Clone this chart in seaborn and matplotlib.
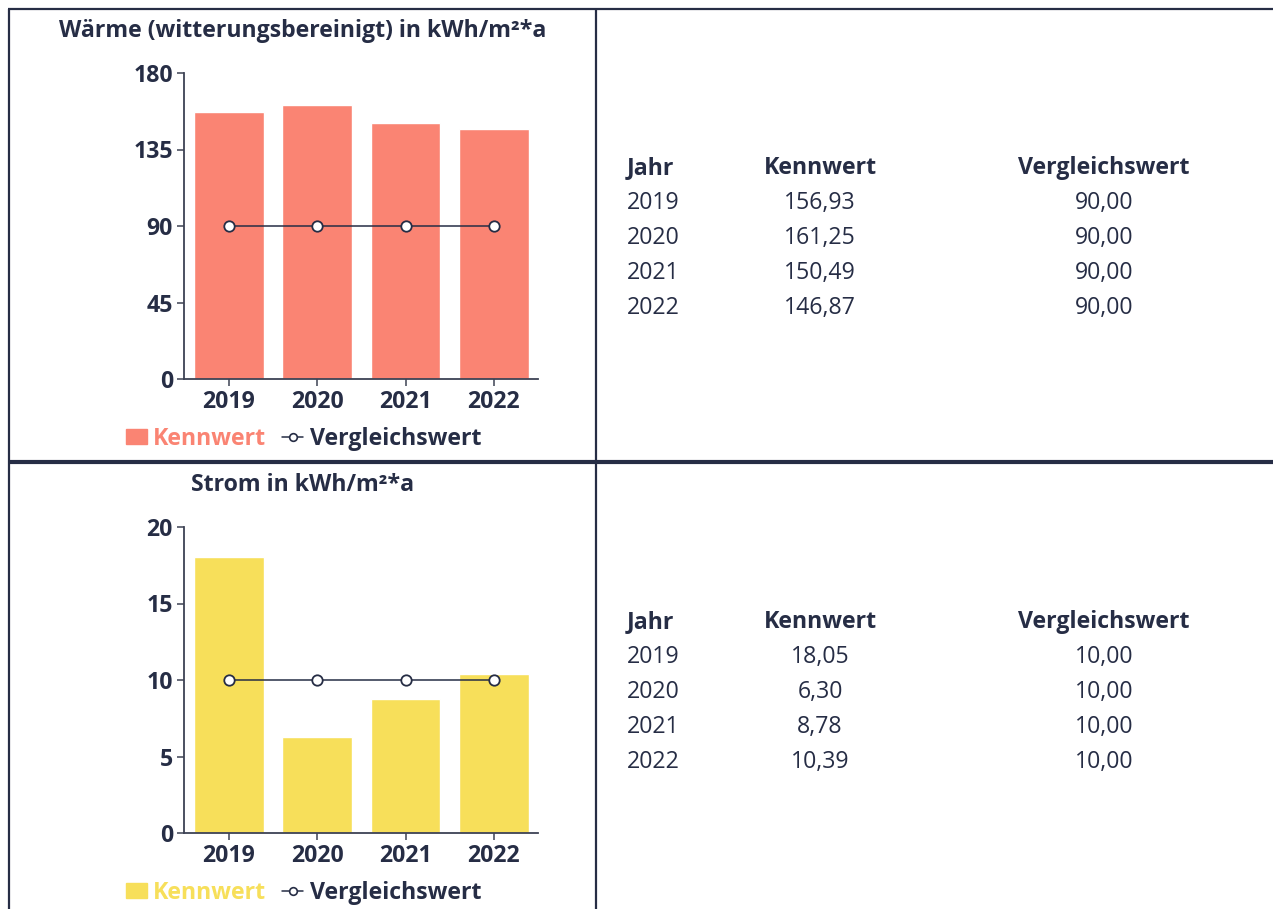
import numpy as np
import pandas as pd
import seaborn as sns
import matplotlib.pyplot as plt
from matplotlib.lines import Line2D

years = ["2019", "2020", "2021", "2022"]
waerme = [156.93, 161.25, 150.49, 146.87]
waerme_ref = [90.00, 90.00, 90.00, 90.00]
strom = [18.05, 6.30, 8.78, 10.39]
strom_ref = [10.00, 10.00, 10.00, 10.00]

waerme_ticks = [0, 45, 90, 135, 180]
strom_ticks = [0, 5, 10, 15, 20]

DARK = "#262d45"
SALMON = "#fa8473"
YELLOW = "#f7df5a"
FS = 16.7

sns.set_theme(style="white")
plt.rcParams["font.family"] = ["Open Sans", "DejaVu Sans"]
plt.rcParams["text.color"] = DARK

W, H = 1273, 909
fig = plt.figure(figsize=(W / 100, H / 100), dpi=100)


def fx(px):
    return px / W


def fy(py):
    return 1 - py / H


def fline(x0, y0, x1, y1, lw):
    fig.add_artist(Line2D([fx(x0), fx(x1)], [fy(y0), fy(y1)], color=DARK,
                          lw=lw, transform=fig.transFigure, solid_capstyle="butt"))


# frame of the report table
fline(8, 9, W, 9, 1.6)
fline(9, 9, 9, H, 1.6)
fline(596, 9, 596, H, 1.6)
fline(8, 462, W, 462, 3.0)


def panel(off, title, values, ref, ticks, color):
    ax = fig.add_axes([fx(184), fy(379 + off), fx(538 - 184), (306) / H])
    df = pd.DataFrame({"Jahr": years, "Kennwert": values})
    sns.barplot(data=df, x="Jahr", y="Kennwert", color=color, saturation=1,
                width=0.79, ax=ax, label="Kennwert")
    sns.lineplot(x=np.arange(len(years)), y=ref, ax=ax, color=DARK, lw=1.1,
                 marker="o", markersize=7.5, markerfacecolor="white",
                 markeredgecolor=DARK, markeredgewidth=1.3, label="Vergleichswert")
    ax.set_xlim(-0.51, 3.5)
    ax.set_ylim(ticks[0], ticks[-1])
    ax.set_yticks(ticks)
    ax.set_xlabel("")
    ax.set_ylabel("")
    for s in ["top", "right"]:
        ax.spines[s].set_visible(False)
    for s in ["left", "bottom"]:
        ax.spines[s].set_color("#3d4254")
        ax.spines[s].set_linewidth(1.3)
    ax.tick_params(axis="both", length=5, width=1.1, color="#3d4254",
                   labelsize=FS, labelcolor=DARK, pad=3, bottom=True, left=True)
    for lab in ax.get_xticklabels() + ax.get_yticklabels():
        lab.set_fontweight("bold")
    ax.set_facecolor("none")

    fig.text(fx(303), fy(37 + off), title, ha="center", va="baseline",
             fontsize=FS, fontweight="bold", color=DARK)

    handles = [plt.Rectangle((0, 0), 1, 1, color=color),
               Line2D([0], [0], color=DARK, lw=1.1, marker="o", markersize=5.5,
                      markerfacecolor="white", markeredgecolor=DARK, markeredgewidth=1.2)]
    leg = ax.legend(handles, ["Kennwert", "Vergleichswert"], loc="center left",
                    bbox_to_anchor=(fx(126), fy(439 + off)), bbox_transform=fig.transFigure,
                    ncol=2, frameon=False, borderaxespad=0, borderpad=0,
                    handlelength=0.9, handleheight=0.62, handletextpad=0.27,
                    columnspacing=0.7, prop={"size": FS, "weight": "bold"})
    leg.get_texts()[0].set_color(color)
    leg.get_texts()[1].set_color(DARK)

    # table next to the chart
    cols = [(627, "left", "Jahr"), (820, "center", "Kennwert"), (1104, "center", "Vergleichswert")]
    for x, ha, head in cols:
        fig.text(fx(x), fy(174 + off), head, ha=ha, va="baseline", fontsize=FS,
                 fontweight="bold", color=DARK)
    for i, yr in enumerate(years):
        yb = fy(209 + 35 * i + off)
        fig.text(fx(627), yb, yr, ha="left", va="baseline", fontsize=FS, color=DARK)
        fig.text(fx(820), yb, f"{values[i]:.2f}".replace(".", ","), ha="center",
                 va="baseline", fontsize=FS, color=DARK)
        fig.text(fx(1104), yb, f"{ref[i]:.2f}".replace(".", ","), ha="center",
                 va="baseline", fontsize=FS, color=DARK)


panel(0, "Wärme (witterungsbereinigt) in kWh/m²*a", waerme, waerme_ref, waerme_ticks, SALMON)
panel(454, "Strom in kWh/m²*a", strom, strom_ref, strom_ticks, YELLOW)

fig.savefig("out.png", dpi=100)
